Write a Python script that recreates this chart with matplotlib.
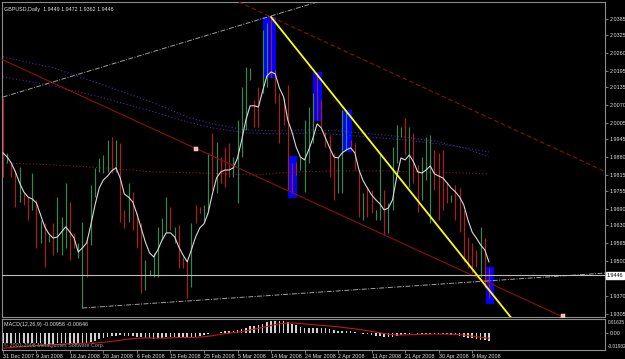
import matplotlib
matplotlib.use("Agg")
import matplotlib.pyplot as plt
import matplotlib.transforms as mtransforms
from matplotlib.patches import Rectangle

plt.rcParams["font.family"] = ["Liberation Sans", "DejaVu Sans"]

# ---------------- data ----------------
symbol_title = "GBPUSD,Daily  1.9449 1.9472 1.9362 1.9446"

bar_high = [2.0096, 1.9895, 1.9858, 1.9832, 1.9843, 1.9748, 1.9733, 1.9821, 1.9723, 1.9649,
            1.9638, 1.9594, 1.9638, 1.9733, 1.9660, 1.9785, 1.9715, 1.9602, 1.9565, 1.9642,
            1.9587, 1.9777, 1.9840, 1.9876, 1.9887, 1.9942, 1.9953, 1.9942, 1.9931, 1.9686,
            1.9785, 1.9752, 1.9675, 1.9638, 1.9503, 1.9466, 1.9529, 1.9624, 1.9657, 1.9733,
            1.9697, 1.9624, 1.9631, 1.9514, 1.9503, 1.9638, 1.9704, 1.9697, 1.9704, 1.9895,
            1.9968, 1.9935, 1.9880, 1.9916, 1.9931, 1.9880, 2.0015, 2.0136, 2.0209, 2.0206,
            2.0089, 2.0136, 2.0345, 2.0370, 2.0392, 2.0198, 2.0114, 2.0096, 2.0143, 1.9858,
            1.9862, 1.9880, 2.0015, 2.0063, 2.0114, 2.0187, 2.0089, 1.9971, 1.9960, 1.9895,
            1.9880, 2.0052, 2.0052, 1.9942, 1.9931, 1.9832, 1.9748, 1.9770, 1.9759, 1.9686,
            1.9895, 1.9759, 1.9712, 1.9916, 1.9997, 1.9990, 2.0023, 1.9990, 1.9968, 1.9851,
            1.9880, 1.9953, 1.9960, 1.9906, 1.9895, 1.9906, 1.9788, 1.9741, 1.9777, 1.9766,
            1.9686, 1.9587, 1.9565, 1.9540, 1.9624, 1.9583, 1.9472]
bar_low = [1.9807, 1.9858, 1.9807, 1.9697, 1.9715, 1.9704, 1.9649, 1.9686, 1.9547, 1.9565,
           1.9477, 1.9569, 1.9521, 1.9532, 1.9521, 1.9547, 1.9503, 1.9547, 1.9510, 1.9327,
           1.9441, 1.9558, 1.9733, 1.9825, 1.9821, 1.9825, 1.9821, 1.9825, 1.9642, 1.9620,
           1.9642, 1.9613, 1.9547, 1.9382, 1.9393, 1.9448, 1.9441, 1.9441, 1.9576, 1.9602,
           1.9613, 1.9565, 1.9474, 1.9474, 1.9364, 1.9404, 1.9638, 1.9675, 1.9638, 1.9686,
           1.9759, 1.9748, 1.9785, 1.9770, 1.9807, 1.9807, 1.9712, 1.9880, 1.9979, 2.0162,
           1.9990, 1.9990, 2.0114, 2.0136, 2.0173, 2.0078, 1.9931, 1.9997, 1.9759, 1.9748,
           1.9814, 1.9832, 1.9752, 1.9858, 1.9931, 2.0015, 1.9990, 1.9916, 1.9807, 1.9723,
           1.9748, 1.9748, 1.9906, 1.9916, 1.9832, 1.9660, 1.9649, 1.9660, 1.9675, 1.9649,
           1.9649, 1.9594, 1.9602, 1.9686, 1.9858, 1.9953, 1.9887, 1.9770, 1.9785, 1.9679,
           1.9723, 1.9796, 1.9638, 1.9759, 1.9649, 1.9686, 1.9712, 1.9715, 1.9649, 1.9605,
           1.9496, 1.9474, 1.9455, 1.9477, 1.9441, 1.9400, 1.9362]
# 'g' = up bar, 'r' = down bar
bar_dir = list("rgrrgrrgrg" "rgrgggrrgg" "rgggggrgrr" "grrrgggggg" "rgrrrgrrgg"
               "rgrrrggggg" "rrggrrrrrr" "rggggrrrrr" "gggrrrgrrg" "grggggrgrr"
               "gggrrrrgrr" "rrrrgrr")

ma_fast = [1.9895, 1.9880, 1.9858, 1.9825, 1.9785, 1.9752, 1.9733, 1.9726, 1.9712, 1.9668,
           1.9624, 1.9598, 1.9583, 1.9587, 1.9605, 1.9624, 1.9605, 1.9583, 1.9532, 1.9547,
           1.9565, 1.9631, 1.9704, 1.9766, 1.9796, 1.9810, 1.9829, 1.9840, 1.9803, 1.9744,
           1.9733, 1.9715, 1.9671, 1.9620, 1.9569, 1.9529, 1.9514, 1.9540, 1.9576, 1.9602,
           1.9602, 1.9587, 1.9550, 1.9521, 1.9496, 1.9540, 1.9587, 1.9620, 1.9635, 1.9675,
           1.9744, 1.9803, 1.9825, 1.9832, 1.9832, 1.9840, 1.9876, 1.9942, 2.0015, 2.0067,
           2.0067, 2.0063, 2.0121, 2.0176, 2.0191, 2.0184, 2.0132, 2.0100, 2.0015, 1.9971,
           1.9916, 1.9880, 1.9869, 1.9906, 1.9949, 2.0001, 1.9986, 1.9949, 1.9913, 1.9880,
           1.9876, 1.9895, 1.9906, 1.9913, 1.9895, 1.9832, 1.9792, 1.9766, 1.9741, 1.9723,
           1.9708, 1.9686, 1.9693, 1.9723, 1.9807, 1.9876, 1.9869, 1.9887, 1.9862, 1.9825,
           1.9821, 1.9832, 1.9847, 1.9818, 1.9810, 1.9803, 1.9785, 1.9766, 1.9752, 1.9733,
           1.9704, 1.9649, 1.9605, 1.9583, 1.9558, 1.9540, 1.9496]

ma_slow_idx = [0, 12, 24, 36, 48, 60, 70, 80, 90, 100, 110, 116]
ma_slow_val = [1.9858, 1.9851, 1.9840, 1.9825, 1.9821, 1.9814, 1.9825, 1.9829, 1.9829, 1.9825, 1.9821, 1.9818]

ma_a_idx = [0, 12, 24, 36, 44, 50, 58, 66, 72, 80, 88, 96, 104, 110, 116]
ma_a_val = [2.0246, 2.0206, 2.0143, 2.0078, 2.0026, 2.0001, 1.9979, 1.9975, 1.9979, 1.9975,
            1.9964, 1.9953, 1.9935, 1.9913, 1.9880]
ma_b_idx = [0, 12, 24, 36, 44, 50, 58, 66, 74, 84, 96, 106, 116]
ma_b_val = [2.0173, 2.0140, 2.0096, 2.0045, 2.0008, 1.9986, 1.9968, 1.9964, 1.9968, 1.9957,
            1.9942, 1.9924, 1.9898]

current_price = 1.9446

# zones: (left bar, right bar, top price, bottom price)
zones = [(62.0, 65.1, 2.0392, 2.0169), (74.0, 76.1, 2.0191, 2.0012), (68.0, 70.2, 1.9884, 1.9730),
         (81.1, 83.3, 2.0052, 1.9898), (115.3, 117.2, 1.9477, 1.9342)]

# trend lines: ((bar, price), (bar, price))
yellow_line = ((64.0, 2.0392), (122.0, 1.9278))
channel_low = ((0.0, 2.0235), (133.7, 1.9294))
channel_low_marks = [(46.1, 1.9909), (133.7, 1.9298)]
channel_high = ((56.3, 2.0447), (143.9, 1.9825))
support_line = ((19.0, 1.9327), (143.9, 1.9455))
upper_line = ((0.0, 2.0099), (80.0, 2.0470))

macd_main = [-0.0120, -0.0118, -0.0118, -0.0120, -0.0122, -0.0122, -0.0124, -0.0124, -0.0126, -0.0128,
             -0.0130, -0.0130, -0.0130, -0.0128, -0.0126, -0.0124, -0.0122, -0.0122, -0.0124, -0.0122,
             -0.0118, -0.0108, -0.0094, -0.0080, -0.0066, -0.0054, -0.0042, -0.0034, -0.0032, -0.0034,
             -0.0036, -0.0040, -0.0046, -0.0054, -0.0062, -0.0068, -0.0070, -0.0066, -0.0060, -0.0054,
             -0.0050, -0.0048, -0.0050, -0.0054, -0.0058, -0.0054, -0.0046, -0.0038, -0.0030, -0.0020,
             -0.0008, 0.0002, 0.0010, 0.0016, 0.0022, 0.0026, 0.0034, 0.0046, 0.0062, 0.0076,
             0.0086, 0.0094, 0.0110, 0.0126, 0.0140, 0.0146, 0.0146, 0.0140, 0.0124, 0.0106,
             0.0088, 0.0072, 0.0062, 0.0058, 0.0058, 0.0060, 0.0058, 0.0052, 0.0044, 0.0034,
             0.0026, 0.0022, 0.0020, 0.0016, 0.0010, 0.0002, -0.0010, -0.0020, -0.0030, -0.0040,
             -0.0044, -0.0050, -0.0052, -0.0048, -0.0036, -0.0024, -0.0016, -0.0010, -0.0008, -0.0010,
             -0.0012, -0.0012, -0.0010, -0.0012, -0.0014, -0.0016, -0.0020, -0.0024, -0.0030, -0.0036,
             -0.0046, -0.0058, -0.0068, -0.0076, -0.0082, -0.0088, -0.00958]
macd_signal = [-0.0185, -0.0180, -0.0176, -0.0172, -0.0168, -0.0164, -0.0160, -0.0157, -0.0154, -0.0151,
               -0.0148, -0.0145, -0.0142, -0.0139, -0.0136, -0.0133, -0.0131, -0.0129, -0.0127, -0.0125,
               -0.0124, -0.0123, -0.0121, -0.0118, -0.0114, -0.0109, -0.0103, -0.0096, -0.0089, -0.0082,
               -0.0076, -0.0070, -0.0066, -0.0063, -0.0062, -0.0062, -0.0063, -0.0064, -0.0064, -0.0063,
               -0.0061, -0.0059, -0.0057, -0.0056, -0.0056, -0.0056, -0.0054, -0.0051, -0.0047, -0.0041,
               -0.0035, -0.0027, -0.0019, -0.0012, -0.0005, 0.0002, 0.0008, 0.0015, 0.0024, 0.0034,
               0.0044, 0.0054, 0.0064, 0.0075, 0.0087, 0.0098, 0.0107, 0.0113, 0.0117, 0.0117,
               0.0115, 0.0111, 0.0106, 0.0101, 0.0096, 0.0092, 0.0089, 0.0085, 0.0081, 0.0077,
               0.0071, 0.0065, 0.0059, 0.0053, 0.0047, 0.0040, 0.0032, 0.0024, 0.0016, 0.0008,
               0.0000, -0.0008, -0.0016, -0.0022, -0.0025, -0.0026, -0.0025, -0.0023, -0.0021, -0.0019,
               -0.0018, -0.0017, -0.0016, -0.0015, -0.0015, -0.0015, -0.0016, -0.0017, -0.0019, -0.0022,
               -0.0027, -0.0033, -0.0040, -0.0047, -0.0054, -0.0060, -0.00646]
macd_title = "MACD(12,26,9) -0.00958 -0.00646"
copyright_text = "\u00a9 2001-2008 MetaQuotes Software Corp."

price_ticks = [2.0385, 2.0325, 2.0260, 2.0195, 2.0135, 2.0070, 2.0005, 1.9945, 1.9880, 1.9815,
               1.9755, 1.9690, 1.9630, 1.9565, 1.9500, 1.9370, 1.9305]
macd_top_label = "0.01635"
macd_zero_label = "0.00"
macd_bottom_label = "-0.01932"
date_tick_idx = [0, 8, 16, 24, 32, 40, 48, 56, 64, 72, 80, 88, 96, 104, 112]
date_tick_labels = ["31 Dec 2007", "9 Jan 2008", "18 Jan 2008", "28 Jan 2008", "6 Feb 2008",
                    "15 Feb 2008", "25 Feb 2008", "5 Mar 2008", "14 Mar 2008", "24 Mar 2008",
                    "2 Apr 2008", "11 Apr 2008", "21 Apr 2008", "30 Apr 2008", "9 May 2008"]

# ---------------- drawing ----------------
W, H = 625, 359
fig = plt.figure(figsize=(W / 100, H / 100), dpi=100, facecolor="black")
frame_col = "#8c8c8c"
text_col = "#e0e0e0"
fs = 3.9

ax = fig.add_axes([2 / W, (H - 317) / H, 603 / W, 315 / H], facecolor="black")
axm = fig.add_axes([2 / W, (H - 350) / H, 603 / W, 31 / H], facecolor="black", sharex=ax)

xmin, xmax = -0.2, 143.7
ax.set_xlim(xmin, xmax)
ax.set_ylim(1.9294, 2.0447)
axm.set_ylim(-0.0206, 0.0165)

for a in (ax, axm):
    for s in a.spines.values():
        s.set_color(frame_col)
        s.set_linewidth(0.8)

# zones
for (l, r, t, b) in zones:
    ax.add_patch(Rectangle((l, b), r - l, t - b, facecolor="#0000ff", edgecolor="none", zorder=1))

# moving averages
ax.plot(ma_slow_idx, ma_slow_val, color="#8b1a1a", lw=0.8, ls=(0, (1, 2)), zorder=2)
ax.plot(ma_a_idx, ma_a_val, color="#4b2a9a", lw=0.8, ls=(0, (1, 2)), zorder=2)
ax.plot(ma_b_idx, ma_b_val, color="#4b2a9a", lw=0.8, ls=(0, (1, 2)), zorder=2)

# bars
idx = list(range(len(bar_high)))
cols = ["#2e8b57" if d == "g" else "#b01c1c" for d in bar_dir]
ax.vlines(idx, bar_low, bar_high, colors=cols, lw=0.85, zorder=3)

# fast MA
ax.plot(idx, ma_fast, color="#d8d8d8", lw=0.8, zorder=4)

# trend lines
(x0, y0), (x1, y1) = channel_low
ax.plot([x0, x1], [y0, y1], color="#8b1010", lw=0.8, zorder=5)
for (mx, my) in channel_low_marks:
    ax.plot([mx], [my], marker="s", ms=2.2, mfc="#ffb0b0", mec="#ffffff", mew=0.3, zorder=6)
(x0, y0), (x1, y1) = channel_high
ax.plot([x0, x1], [y0, y1], color="#8b1010", lw=0.8, ls=(0, (4, 2.5)), zorder=5)
(x0, y0), (x1, y1) = support_line
ax.plot([x0, x1], [y0, y1], color="#a0a0a0", lw=0.7, ls=(0, (5, 1.5, 1, 1.5)), zorder=5)
(x0, y0), (x1, y1) = upper_line
ax.plot([x0, x1], [y0, y1], color="#a0a0a0", lw=0.7, ls=(0, (5, 1.5, 1, 1.5)), zorder=5)
(x0, y0), (x1, y1) = yellow_line
ax.plot([x0, x1], [y0, y1], color="#ffff00", lw=1.3, zorder=6)

ax.axhline(current_price, color="#bdbdbd", lw=0.8, zorder=5)

# axes ticks main
ax.yaxis.tick_right()
ax.set_yticks(price_ticks)
ax.set_yticklabels([f"{v:.4f}" for v in price_ticks])
ax.tick_params(axis="y", colors=frame_col, labelcolor=text_col, labelsize=fs, length=2, width=0.6, pad=1.2)
ax.tick_params(axis="x", bottom=False, labelbottom=False)
trans = mtransforms.blended_transform_factory(ax.transAxes, ax.transData)
ax.text(1.003, current_price, f"{current_price:.4f}", transform=trans, fontsize=fs, color="black",
        va="center", ha="left", zorder=10,
        bbox=dict(boxstyle="square,pad=0.12", fc="white", ec="white"))
ax.text(0.004, 0.985, symbol_title, transform=ax.transAxes, fontsize=fs, color=text_col,
        va="top", ha="left")

# MACD
axm.bar(idx, macd_main, width=0.38, color="#d0d0d0", zorder=2)
axm.plot(idx, macd_signal, color="#c01818", lw=0.8, zorder=3)
axm.yaxis.tick_right()
axm.set_yticks([0.0])
axm.set_yticklabels([macd_zero_label])
axm.tick_params(axis="y", colors=frame_col, labelcolor=text_col, labelsize=fs, length=2, width=0.6, pad=1.2)
axm.text(1.004, 0.88, macd_top_label, transform=axm.transAxes, fontsize=3.4, color=text_col,
         va="center", ha="left")
axm.text(1.004, 0.1, macd_bottom_label, transform=axm.transAxes, fontsize=3.4, color=text_col,
         va="center", ha="left")
axm.set_xticks(date_tick_idx)
axm.set_xticklabels(date_tick_labels, ha="left")
axm.tick_params(axis="x", colors=frame_col, labelcolor=text_col, labelsize=fs, length=2, width=0.6, pad=1)
axm.text(0.004, 0.9, macd_title, transform=axm.transAxes, fontsize=fs, color=text_col, va="top", ha="left")
axm.text(0.004, 0.05, copyright_text, transform=axm.transAxes, fontsize=fs, color="#a0a0a0",
         va="bottom", ha="left", zorder=5)

fig.savefig("out.png", dpi=100, facecolor="black")
